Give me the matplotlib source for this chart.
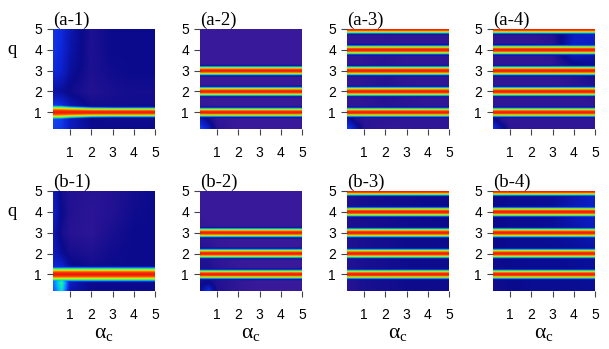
import numpy as np
import matplotlib
matplotlib.use("Agg")
import matplotlib.pyplot as plt
from matplotlib.colors import LinearSegmentedColormap
from matplotlib.transforms import blended_transform_factory

plt.rcParams["mathtext.fontset"] = "stix"

# ---- data -------------------------------------------------------------
panel_labels = ["(a-1)", "(a-2)", "(a-3)", "(a-4)",
                "(b-1)", "(b-2)", "(b-3)", "(b-4)"]

# resonance orders (q values) carrying a bright band in each panel
resonances = {
    "(a-1)": [1],
    "(a-2)": [1, 2, 3],
    "(a-3)": [1, 2, 3, 4, 5],
    "(a-4)": [1, 2, 3, 4, 5],
    "(b-1)": [1],
    "(b-2)": [1, 2, 3],
    "(b-3)": [1, 2, 3, 4, 5],
    "(b-4)": [1, 2, 3, 4, 5],
}

# coarse grid shared by background levels and band widths
grid_alpha = [0.2, 0.6, 1, 2, 3, 4, 5]
grid_q = [0.2, 0.6, 1, 2, 3, 4, 5]

# relative band width along alpha_c (columns follow grid_alpha)
band_width = {
    "(a-1)": [1.95, 1.9, 1.7, 1.45, 1.4, 1.4, 1.4],
    "(a-2)": [1.3] * 7,
    "(a-3)": [1.3] * 7,
    "(a-4)": [1.3] * 7,
    "(b-1)": [2.0] * 7,
    "(b-2)": [1.3] * 7,
    "(b-3)": [1.3] * 7,
    "(b-4)": [1.3] * 7,
}

# cross-section of a resonance band: offset in q vs. intensity
band_offset = [0.0, 0.04, 0.07, 0.10, 0.13, 0.16, 0.19, 0.23]
band_level = [1.0, 0.95, 0.85, 0.72, 0.60, 0.35, 0.12, 0.0]

# background level, rows follow grid_q, columns follow grid_alpha
background = {
    "(a-1)": [[0.27, 0.25, 0.18, 0.11, 0.10, 0.10, 0.10],
              [0.28, 0.26, 0.18, 0.10, 0.09, 0.09, 0.09],
              [0.32, 0.29, 0.20, 0.10, 0.09, 0.09, 0.09],
              [0.14, 0.12, 0.09, 0.05, 0.07, 0.08, 0.08],
              [0.23, 0.20, 0.13, 0.06, 0.09, 0.10, 0.10],
              [0.25, 0.22, 0.15, 0.06, 0.10, 0.10, 0.10],
              [0.25, 0.23, 0.16, 0.06, 0.10, 0.10, 0.10]],
    "(a-2)": [[0.28, 0.20, 0.04, 0.00, 0.00, 0.00, 0.00],
              [0.20, 0.10, 0.02, 0.00, 0.00, 0.00, 0.00],
              [0.02, 0.01, 0.00, 0.00, 0.00, 0.00, 0.00],
              [0.00, 0.00, 0.00, 0.00, 0.00, 0.00, 0.00],
              [0.00, 0.00, 0.00, 0.00, 0.00, 0.00, 0.00],
              [0.00, 0.00, 0.00, 0.00, 0.00, 0.00, 0.00],
              [0.00, 0.00, 0.00, 0.00, 0.00, 0.00, 0.00]],
    "(a-3)": [[0.28, 0.18, 0.04, 0.02, 0.02, 0.02, 0.02],
              [0.18, 0.07, 0.03, 0.03, 0.02, 0.02, 0.02],
              [0.03, 0.02, 0.02, 0.04, 0.03, 0.02, 0.02],
              [0.02, 0.02, 0.03, 0.05, 0.03, 0.02, 0.02],
              [0.02, 0.02, 0.03, 0.04, 0.02, 0.02, 0.02],
              [0.02, 0.02, 0.02, 0.03, 0.02, 0.02, 0.02],
              [0.02, 0.02, 0.02, 0.02, 0.02, 0.02, 0.02]],
    "(a-4)": [[0.25, 0.15, 0.03, 0.02, 0.02, 0.02, 0.02],
              [0.15, 0.05, 0.02, 0.02, 0.02, 0.02, 0.02],
              [0.02, 0.02, 0.02, 0.02, 0.02, 0.02, 0.02],
              [0.02, 0.02, 0.02, 0.02, 0.02, 0.02, 0.03],
              [0.02, 0.02, 0.02, 0.02, 0.02, 0.05, 0.10],
              [0.02, 0.02, 0.02, 0.02, 0.03, 0.20, 0.16],
              [0.02, 0.02, 0.02, 0.02, 0.05, 0.18, 0.22]],
    "(b-1)": [[0.30, 0.50, 0.15, 0.10, 0.10, 0.10, 0.10],
              [0.34, 0.58, 0.18, 0.10, 0.10, 0.10, 0.10],
              [0.24, 0.26, 0.14, 0.10, 0.10, 0.10, 0.10],
              [0.18, 0.12, 0.08, 0.06, 0.09, 0.10, 0.10],
              [0.16, 0.08, 0.04, 0.03, 0.07, 0.10, 0.10],
              [0.20, 0.10, 0.05, 0.03, 0.05, 0.09, 0.10],
              [0.18, 0.08, 0.05, 0.04, 0.05, 0.08, 0.10]],
    "(b-2)": [[0.12, 0.25, 0.06, 0.02, 0.00, 0.00, 0.00],
              [0.08, 0.10, 0.05, 0.02, 0.00, 0.00, 0.00],
              [0.06, 0.06, 0.04, 0.01, 0.00, 0.00, 0.00],
              [0.05, 0.04, 0.02, 0.00, 0.00, 0.00, 0.00],
              [0.02, 0.01, 0.00, 0.00, 0.00, 0.00, 0.00],
              [0.00, 0.00, 0.00, 0.00, 0.00, 0.00, 0.00],
              [0.00, 0.00, 0.00, 0.00, 0.00, 0.00, 0.00]],
    "(b-3)": [[0.04, 0.05, 0.07, 0.08, 0.09, 0.09, 0.09],
              [0.04, 0.05, 0.07, 0.08, 0.09, 0.09, 0.09],
              [0.05, 0.05, 0.07, 0.08, 0.09, 0.09, 0.09],
              [0.05, 0.06, 0.07, 0.08, 0.09, 0.09, 0.09],
              [0.06, 0.06, 0.07, 0.08, 0.09, 0.09, 0.10],
              [0.06, 0.07, 0.08, 0.08, 0.09, 0.10, 0.10],
              [0.07, 0.07, 0.08, 0.09, 0.09, 0.10, 0.10]],
    "(b-4)": [[0.08, 0.09, 0.10, 0.11, 0.11, 0.11, 0.12],
              [0.08, 0.09, 0.10, 0.11, 0.11, 0.11, 0.12],
              [0.09, 0.09, 0.10, 0.11, 0.11, 0.11, 0.12],
              [0.09, 0.10, 0.11, 0.11, 0.11, 0.12, 0.13],
              [0.10, 0.10, 0.11, 0.11, 0.12, 0.14, 0.17],
              [0.10, 0.10, 0.11, 0.11, 0.12, 0.17, 0.20],
              [0.10, 0.10, 0.11, 0.11, 0.12, 0.15, 0.19]],
}

tick_values = [1, 2, 3, 4, 5]
alpha_range = (0.2, 5.0)
q_range = (0.2, 5.0)

# ---- colour map ---------------------------------------------------------
cmap = LinearSegmentedColormap.from_list("spectrum", [
    (0.00, (0.22, 0.10, 0.60)),
    (0.10, (0.04, 0.04, 0.55)),
    (0.22, (0.05, 0.15, 0.85)),
    (0.32, (0.10, 0.35, 1.00)),
    (0.45, (0.00, 0.75, 1.00)),
    (0.55, (0.10, 0.95, 0.60)),
    (0.63, (0.30, 1.00, 0.20)),
    (0.72, (0.85, 1.00, 0.00)),
    (0.82, (1.00, 0.60, 0.00)),
    (0.92, (1.00, 0.25, 0.00)),
    (1.00, (0.93, 0.10, 0.05)),
])


def build_field(label, na=240, nq=480):
    a = np.linspace(*alpha_range, na)
    q = np.linspace(*q_range, nq)
    g = np.asarray(background[label], float)
    # bilinear resampling of the coarse background grid
    rows = np.array([np.interp(a, grid_alpha, r) for r in g])
    bg = np.array([np.interp(q, grid_q, rows[:, j]) for j in range(na)]).T
    width = np.interp(a, grid_alpha, band_width[label])[None, :]
    band = np.zeros_like(bg)
    for n in resonances[label]:
        d = np.abs(q - n)[:, None] / width
        prof = np.interp(d, band_offset, band_level, right=0.0)
        band = np.maximum(band, prof)
    return np.maximum(bg, band)


# ---- figure -----------------------------------------------------------
fig = plt.figure(figsize=(6.09, 3.49), dpi=100)
W, H = 609.0, 349.0
col_left = [53, 200, 347, 493]
row_top = [29, 191]
ax_w, ax_h = 102, 100

serif = ["Liberation Serif", "DejaVu Serif"]
sans = ["Liberation Sans", "DejaVu Sans"]

for i, label in enumerate(panel_labels):
    r, c = divmod(i, 4)
    left = col_left[c] / W
    bottom = 1 - (row_top[r] + ax_h) / H
    ax = fig.add_axes([left, bottom, ax_w / W, ax_h / H])
    ax.imshow(build_field(label), cmap=cmap, vmin=0, vmax=1,
              origin="lower", aspect="auto", interpolation="bilinear",
              extent=(*alpha_range, *q_range))
    ax.set_xlim(*alpha_range)
    ax.set_ylim(*q_range)
    ax.set_xticks(tick_values)
    ax.set_yticks(tick_values)
    for s in ax.spines.values():
        s.set_visible(False)
    ax.tick_params(axis="x", length=4, width=0.8, color="#444444",
                   pad=8, labelsize=10)
    ax.tick_params(axis="y", length=4, width=0.8, color="#444444",
                   pad=4, labelsize=10)
    for t in ax.get_xticklabels() + ax.get_yticklabels():
        t.set_fontfamily(sans)
    ax.set_title(label, loc="left", pad=0, fontsize=13.5, family=serif)
    if c == 0:
        tr = blended_transform_factory(ax.transAxes, ax.transData)
        ax.text(-0.40, 4.0, "q", transform=tr, ha="center", va="center",
                fontsize=13.5, family=serif)
    if r == 1:
        ax.set_xlabel("α$_\\mathregular{c}$", fontsize=15.5, labelpad=2,
                      family=serif)

fig.savefig("out.png", dpi=100)
